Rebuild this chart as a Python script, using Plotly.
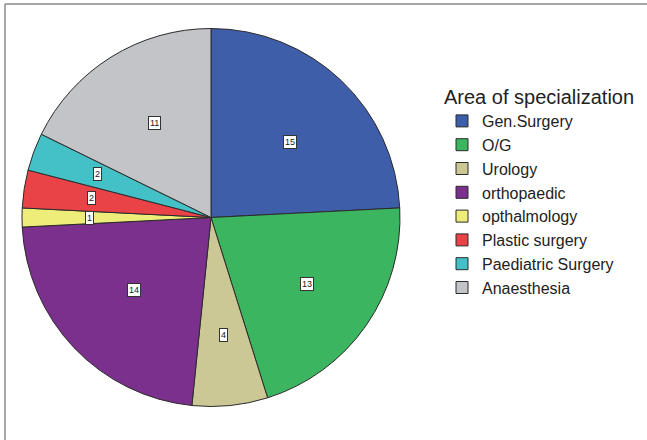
import math
import plotly.graph_objects as go

# Respondents by area of specialization
specialties = ["Gen.Surgery", "O/G", "Urology", "orthopaedic", "opthalmology",
               "Plastic surgery", "Paediatric Surgery", "Anaesthesia"]
counts = [15, 13, 4, 14, 1, 2, 2, 11]
colors = ["#3F5EAA", "#3BB55F", "#CCC896", "#7A308C", "#EFED7A",
          "#E94247", "#43C1C7", "#C3C4C7"]

W, H = 647, 440
cx_px, cy_px, r_px = 211, 217.5, 189

fig = go.Figure(go.Pie(
    labels=specialties,
    values=counts,
    sort=False,
    direction="clockwise",
    rotation=0,
    marker=dict(colors=colors, line=dict(color="#2b2b2b", width=1)),
    textinfo="none",
    hoverinfo="label+value",
    domain=dict(x=[(cx_px - r_px) / W, (cx_px + r_px) / W],
                y=[(H - cy_px - r_px) / H, (H - cy_px + r_px) / H]),
))

# Value labels at each sector's centroid
total = sum(counts)
start = 90.0
annotations = []
for v in counts:
    span = v / total * 360.0
    mid = math.radians(start - span / 2)
    half = math.radians(span / 2)
    rc = 2 * r_px * math.sin(half) / (3 * half)
    x_px = cx_px + rc * math.cos(mid)
    y_px = cy_px - rc * math.sin(mid)
    annotations.append(dict(
        x=x_px / W, y=1 - y_px / H, xref="paper", yref="paper",
        text=str(v), showarrow=False,
        font=dict(size=9, color="#222", family="Liberation Sans, Arial"),
        bgcolor="white", bordercolor="#333", borderwidth=1, borderpad=1,
    ))
    start -= span

# Frame: top and left edges only
frame_line = dict(color="#8a8a8a", width=1.5)
frame = [
    dict(type="line", xref="paper", yref="paper",
         x0=5 / W, x1=1, y0=1 - 4 / H, y1=1 - 4 / H, line=frame_line),
    dict(type="line", xref="paper", yref="paper",
         x0=5 / W, x1=5 / W, y0=0, y1=1 - 4 / H, line=frame_line),
]

fig.update_layout(
    width=W, height=H,
    margin=dict(l=0, r=0, t=0, b=0),
    paper_bgcolor="white",
    font=dict(family="Liberation Sans, Arial", color="#222"),
    annotations=annotations,
    legend=dict(
        title=dict(text="Area of specialization", font=dict(size=20)),
        font=dict(size=16),
        x=442 / W, y=1 - 78 / H, xanchor="left", yanchor="top",
        bgcolor="rgba(0,0,0,0)",
    ),
    shapes=frame,
)

fig.write_html("out.html")
